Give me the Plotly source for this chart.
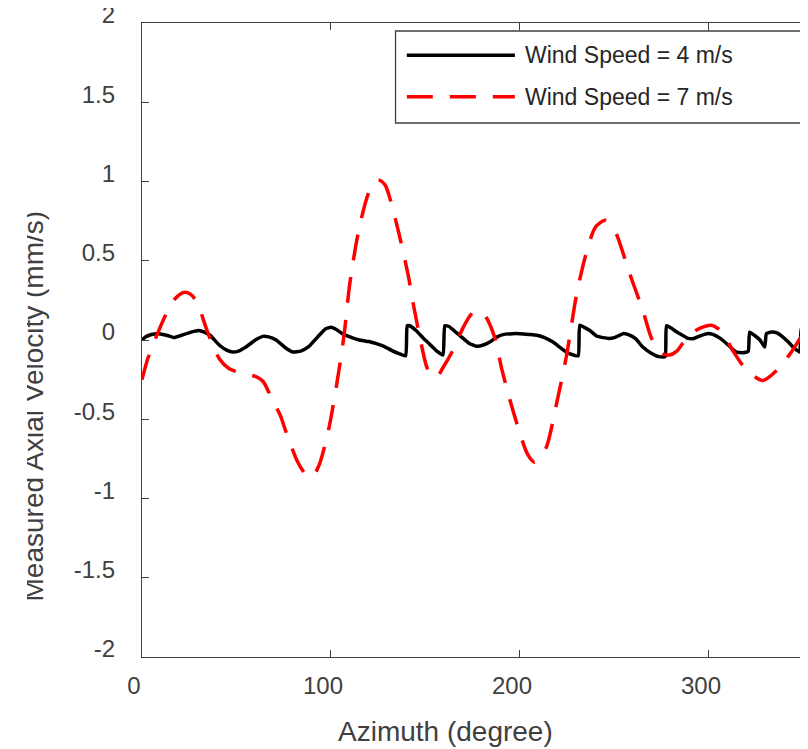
import plotly.graph_objects as go

# ---- data ----
az_4 = [0, 2, 5, 9, 13, 17, 21, 26, 30, 33, 36, 41, 45, 48, 51, 55, 60, 64, 67, 71,
        76, 80, 84, 88, 93, 97, 100, 103, 106, 110, 115, 120, 124, 128, 132, 136, 139.5,
        140.3, 141.5, 145, 149, 152, 156, 159.3, 160.2, 162.5, 166, 169, 173, 177, 181,
        184, 188, 191, 196, 200, 205, 209, 213, 217.5, 221, 224.5, 227, 230.8, 231.6, 234,
        237, 240.5, 244, 247, 250, 254.5, 257, 261, 265, 269, 273.5, 276.8, 277.5, 280,
        283, 286, 289, 292, 295, 299, 302, 306, 310, 314.5, 318, 320.8, 321.5, 324, 327,
        329.5, 330.4, 333, 336, 339, 342, 345, 348, 348.9, 352.5]
vel_4 = [0.0, 0.02, 0.035, 0.04, 0.03, 0.015, 0.03, 0.05, 0.06, 0.05, 0.03, -0.033,
         -0.065, -0.076, -0.07, -0.044, 0.0, 0.023, 0.02, 0.0, -0.05, -0.076, -0.07,
         -0.044, 0.02, 0.07, 0.08, 0.065, 0.04, 0.02, 0.0, -0.01, -0.023, -0.04, -0.065,
         -0.086, -0.1, 0.09, 0.09, 0.06, 0.01, -0.023, -0.07, -0.095, 0.09, 0.085, 0.05,
         0.02, -0.02, -0.04, -0.03, -0.013, 0.02, 0.034, 0.04, 0.04, 0.035, 0.03, 0.015,
         -0.013, -0.045, -0.076, -0.09, -0.1, 0.093, 0.08, 0.06, 0.025, 0.015, 0.01, 0.015,
         0.04, 0.035, 0.01, -0.044, -0.08, -0.105, -0.105, 0.09, 0.075, 0.05, 0.03, 0.01,
         0.01, 0.025, 0.04, 0.035, 0.01, -0.03, -0.076, -0.08, -0.07, 0.05, 0.03, 0.0,
         -0.044, 0.04, 0.05, 0.045, 0.02, -0.013, -0.05, -0.076, 0.072, 0.072]

az_7 = [0, 3, 7.5, 13, 17.5, 22, 25.5, 29, 35, 41, 46, 53, 60, 64, 69, 73, 76.5, 82, 86,
        88.5, 91, 94, 99, 104.5, 107, 110, 115, 120.5, 125, 128.5, 131, 136, 141, 143.5,
        147, 151, 154, 156, 159, 164.5, 170, 174, 177, 180, 182, 186.5, 190.5, 194.5, 200,
        204, 207.5, 210, 214, 219, 224.5, 230, 235, 240, 245, 248, 251, 258, 265, 270,
        275.5, 279, 283, 286, 293, 301, 307, 312.5, 320, 328.5, 336, 343, 350, 352.5]
vel_7 = [-0.25, -0.12, 0.02, 0.17, 0.26, 0.30, 0.29, 0.24, 0.04, -0.12, -0.18, -0.21,
         -0.23, -0.26, -0.38, -0.47, -0.59, -0.76, -0.84, -0.865, -0.85, -0.78, -0.55,
         -0.17, 0.04, 0.36, 0.71, 0.945, 1.01, 0.98, 0.90, 0.67, 0.40, 0.23, 0.02, -0.18,
         -0.23, -0.235, -0.18, -0.065, 0.08, 0.16, 0.187, 0.17, 0.145, 0.02, -0.19, -0.37,
         -0.59, -0.72, -0.77, -0.75, -0.675, -0.42, -0.107, 0.29, 0.545, 0.713, 0.755,
         0.73, 0.67, 0.42, 0.187, 0.0, -0.086, -0.095, -0.07, -0.023, 0.06, 0.093, 0.05,
         -0.065, -0.19, -0.255, -0.19, -0.086, 0.04, 0.07]

series_names = ["Wind Speed = 4 m/s", "Wind Speed = 7 m/s"]
y_tickvals = [-2, -1.5, -1, -0.5, 0, 0.5, 1, 1.5, 2]
y_ticktext = ["-2", "-1.5", "-1", "-0.5", "0", "0.5", "1", "1.5", "2"]
x_tickvals = [0, 100, 200, 300]
x_title = "Azimuth (degree)"
y_title = "Measured Axial Velocity (mm/s)"

FONT = "Liberation Sans, Arial, Helvetica, sans-serif"
AX = "#404040"
OFF = 8  # page body margin of the browser
W, H = 800, 741
ML, MR, MT, MB = 134.3, 0, 14.7, 92.3
PW, PH = W - ML - MR, H - MT - MB


def px(xs):
    """screen x pixel -> paper x"""
    return (xs - OFF - ML) / PW


def py(ys):
    """screen y pixel -> paper y"""
    return (H - MB - (ys - OFF)) / PH


fig = go.Figure()
fig.add_trace(go.Scatter(x=az_4, y=vel_4, mode="lines", name=series_names[0],
                         line=dict(color="black", width=3.5, shape="spline", smoothing=0.4),
                         showlegend=False))
fig.add_trace(go.Scatter(x=az_7, y=vel_7, mode="lines", name=series_names[1],
                         line=dict(color="#ff0000", width=3.5, dash="26px,17px",
                                   shape="spline", smoothing=0.8),
                         showlegend=False))

fig.update_layout(
    width=W, height=H,
    margin=dict(l=ML, r=MR, t=MT, b=MB, autoexpand=False),
    paper_bgcolor="white", plot_bgcolor="white",
    font=dict(family=FONT, color=AX),
    showlegend=False,
)
fig.update_xaxes(range=[0, 352.4], tickvals=x_tickvals, ticks="inside", ticklen=7,
                 tickwidth=1.3, tickcolor=AX, showline=True, linecolor=AX, linewidth=1.3,
                 mirror="ticks", showgrid=False, zeroline=False,
                 tickfont=dict(size=24, color=AX, family=FONT),
                 ticklabelshift=-8, ticklabelstandoff=7, ticklabeloverflow="allow")
fig.update_yaxes(range=[-2, 2], tickvals=y_tickvals, ticktext=y_ticktext, ticks="inside",
                 ticklen=7, tickwidth=1.3, tickcolor=AX, showline=True, linecolor=AX,
                 linewidth=1.3, showgrid=False, zeroline=False,
                 tickfont=dict(size=24, color=AX, family=FONT),
                 ticklabelshift=-8, ticklabelstandoff=21, ticklabeloverflow="allow")

# legend box and samples
fig.add_shape(type="rect", xref="paper", yref="paper", x0=px(395.7), x1=px(830),
              y0=py(122.7), y1=py(30.7), line=dict(color=AX, width=1.3),
              fillcolor="white", layer="above")
fig.add_shape(type="line", xref="paper", yref="paper", x0=px(407), x1=px(515),
              y0=py(55), y1=py(55), line=dict(color="black", width=3.5), layer="above")
fig.add_shape(type="line", xref="paper", yref="paper", x0=px(407), x1=px(515),
              y0=py(96.5), y1=py(96.5),
              line=dict(color="#ff0000", width=3.5, dash="26px,17px,26px,17px,22px"),
              layer="above")

annotations = [
    dict(text=series_names[0], x=px(523), y=py(55), xanchor="left", yanchor="middle"),
    dict(text=series_names[1], x=px(523), y=py(96.5), xanchor="left", yanchor="middle"),
]
for a in annotations:
    fig.add_annotation(xref="paper", yref="paper", showarrow=False,
                       font=dict(size=23, color="#262626", family=FONT), **a)

fig.add_annotation(text=x_title, xref="paper", yref="paper", x=px(445.5), y=py(731),
                   xanchor="center", yanchor="middle", showarrow=False,
                   font=dict(size=28, color=AX, family=FONT))
fig.add_annotation(text=y_title, xref="paper", yref="paper", x=px(34), y=py(405.5),
                   xanchor="center", yanchor="middle", textangle=-90, showarrow=False,
                   font=dict(size=28, color=AX, family=FONT))
# the reference's y title is cropped along its upper edge: white strip over it
fig.add_annotation(text=" ", xref="paper", yref="paper", x=px(8), y=py(405.5),
                   xanchor="left", yanchor="middle", width=19, height=440,
                   bgcolor="white", borderpad=0, borderwidth=0, showarrow=False,
                   font=dict(size=10, color="white", family=FONT))

fig.write_html("out.html")
